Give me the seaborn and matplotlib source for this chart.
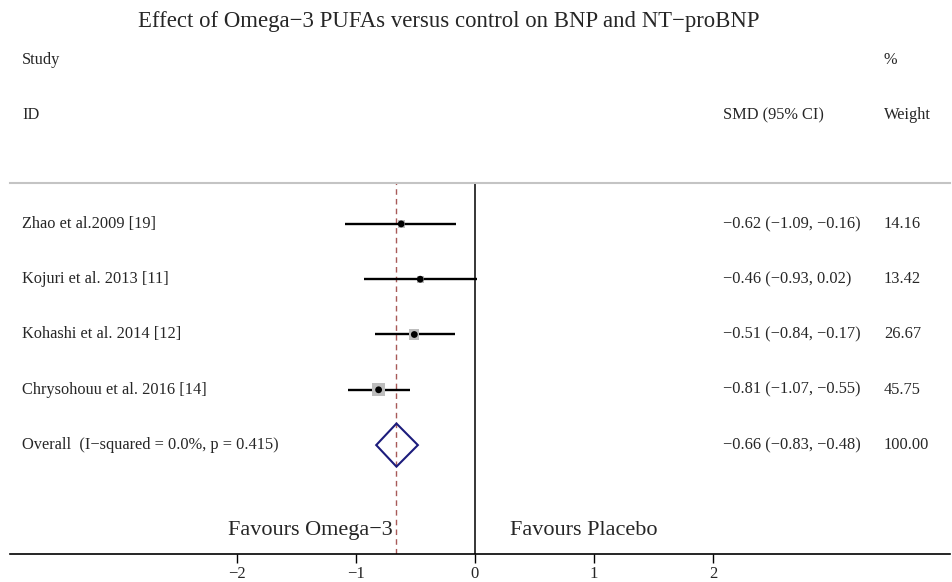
import matplotlib.pyplot as plt
import pandas as pd
import seaborn as sns

# study-level data
studies = [
    "Zhao et al.2009 [19]",
    "Kojuri et al. 2013 [11]",
    "Kohashi et al. 2014 [12]",
    "Chrysohouu et al. 2016 [14]",
]
smd = [-0.62, -0.46, -0.51, -0.81]
ci_low = [-1.09, -0.93, -0.84, -1.07]
ci_high = [-0.16, 0.02, -0.17, -0.55]
weights = [14.16, 13.42, 26.67, 45.75]

overall_label = "Overall  (I\u2212squared = 0.0%, p = 0.415)"
overall_smd = -0.66
overall_low = -0.83
overall_high = -0.48

x_ticks = [-2, -1, 0, 1, 2]


def fmt(v):
    return f"{v:.2f}".replace("-", "\u2212")


df = pd.DataFrame(
    {
        "study": studies,
        "smd": smd,
        "low": ci_low,
        "high": ci_high,
        "weight": weights,
        "row": range(len(studies)),
    }
)

sns.set_style("white")
plt.rcParams["font.family"] = ["Liberation Serif", "DejaVu Serif"]
plt.rcParams["axes.unicode_minus"] = True

FS = 11.8

fig = plt.figure(figsize=(9.53, 5.82), dpi=100)
ax = fig.add_axes([10 / 953, 28 / 582, 940 / 953, 371 / 582])
ax.set_xlim(-465 / 119, 475 / 119)
ax.set_ylim(5.97, -0.74)

# reference lines
ax.axvline(0, color="black", lw=1.1, zorder=1)
ax.axvline(overall_smd, color="#a85a58", lw=1.0, ls=(0, (4, 3)), zorder=1)

# confidence intervals
ax.hlines(df["row"], df["low"], df["high"], color="black", lw=1.7, zorder=2)

# weight boxes
sns.scatterplot(
    data=df, x="smd", y="row", size="weight",
    sizes={w: 1.95 * w for w in weights},
    marker="s", color="#bdbdbd", edgecolor="none", legend=False, ax=ax, zorder=3,
)
sns.scatterplot(
    data=df, x="smd", y="row", color="black", s=24, edgecolor="none",
    legend=False, ax=ax, zorder=4,
)

# pooled diamond
orow = len(studies)
half_h = 0.39
ax.fill(
    [overall_low, overall_smd, overall_high, overall_smd],
    [orow, orow - half_h, orow, orow + half_h],
    facecolor="none", edgecolor="#1c1c7c", lw=1.5, zorder=4,
)

# left and right text columns
x_label = (22 - 475) / 119
x_ci = (723 - 475) / 119
x_w = (884 - 475) / 119
for i, r in df.iterrows():
    ax.text(x_label, r["row"], r["study"], va="center", ha="left", fontsize=FS)
    ax.text(
        x_ci, r["row"], f"{fmt(r['smd'])} ({fmt(r['low'])}, {fmt(r['high'])})",
        va="center", ha="left", fontsize=FS,
    )
    ax.text(x_w, r["row"], f"{r['weight']:.2f}", va="center", ha="left", fontsize=FS)
ax.text(x_label, orow, overall_label, va="center", ha="left", fontsize=FS)
ax.text(
    x_ci, orow, f"{fmt(overall_smd)} ({fmt(overall_low)}, {fmt(overall_high)})",
    va="center", ha="left", fontsize=FS,
)
ax.text(x_w, orow, f"{sum(weights):.2f}", va="center", ha="left", fontsize=FS)

ax.text(-0.69, 5.54, "Favours Omega\u22123", ha="right", va="center", fontsize=16)
ax.text(0.29, 5.54, "Favours Placebo", ha="left", va="center", fontsize=16)

# axes styling
for side in ["left", "right"]:
    ax.spines[side].set_visible(False)
ax.spines["top"].set_color("#c4c4c4")
ax.spines["top"].set_linewidth(1.5)
ax.spines["bottom"].set_color("black")
ax.spines["bottom"].set_linewidth(1.2)
ax.set_yticks([])
ax.set_xticks(x_ticks)
ax.set_xticklabels([fmt(t).replace(".00", "") for t in x_ticks], fontsize=12)
ax.tick_params(axis="x", direction="out", length=6.5, width=1, color="black", pad=2.5, bottom=True)
ax.set_xlabel("")
ax.set_ylabel("")

# header
fig.text(449 / 953, 1 - 22 / 582, "Effect of Omega\u22123 PUFAs versus control on BNP and NT\u2212proBNP",
         ha="center", va="center", fontsize=16.4)
fig.text(22 / 953, 1 - 60 / 582, "Study", ha="left", va="center", fontsize=FS)
fig.text(22 / 953, 1 - 115 / 582, "ID", ha="left", va="center", fontsize=FS)
fig.text(723 / 953, 1 - 115 / 582, "SMD (95% CI)", ha="left", va="center", fontsize=FS)
fig.text(884 / 953, 1 - 60 / 582, "%", ha="left", va="center", fontsize=FS)
fig.text(884 / 953, 1 - 115 / 582, "Weight", ha="left", va="center", fontsize=FS)

fig.savefig("out.png", dpi=100)
